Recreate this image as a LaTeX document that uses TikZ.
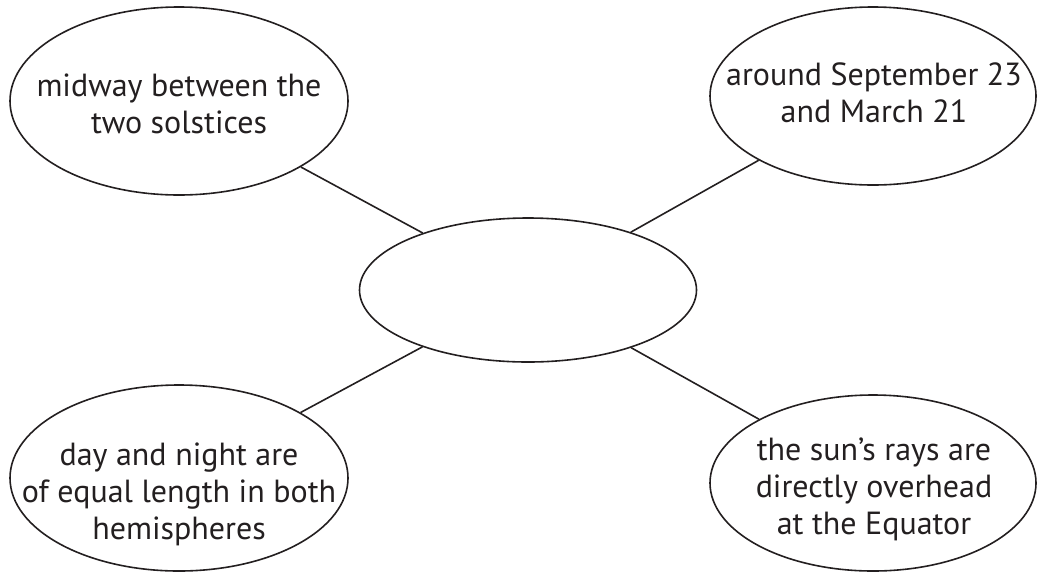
\documentclass[tikz,border=0pt]{standalone}
\usepackage{fontspec}
\setmainfont{PT Sans}
\usetikzlibrary{shapes.geometric}
\definecolor{ink}{HTML}{231F20}
\begin{document}
\begin{tikzpicture}[x=0.75pt,y=-0.75pt,
  bubble/.style={ellipse,draw=ink,line width=1.2pt,inner sep=0pt},
  label/.style={align=center,text=ink,font=\fontsize{24}{27.75}\selectfont,inner sep=0pt},
  link/.style={draw=ink,line width=1.2pt}]
\useasboundingbox (0,0) rectangle (1037,572);
\node[bubble,minimum width=338*0.75pt,minimum height=188*0.75pt] (tl) at (179,101) {};
\node[bubble,minimum width=326*0.75pt,minimum height=178*0.75pt] (tr) at (873,96) {};
\node[bubble,minimum width=337*0.75pt,minimum height=144*0.75pt] (c) at (528,290) {};
\node[bubble,minimum width=338*0.75pt,minimum height=186*0.75pt] (bl) at (179,478) {};
\node[bubble,minimum width=326*0.75pt,minimum height=176*0.75pt] (br) at (873,483) {};
\node[label] (tlt) at (179,104) {midway between the\\two solstices};
\node[label] (trt) at (874,93) {around September 23\\and March 21};
\node[label] (blt) at (179,494) {day and night are\\of equal length in both\\hemispheres};
\node[label] (brt) at (874,489) {the sun’s rays are\\directly overhead\\at the Equator};
\draw[link] (c) -- (tl);
\draw[link] (c) -- (tr);
\draw[link] (c) -- (bl);
\draw[link] (c) -- (br);
\end{tikzpicture}
\end{document}
